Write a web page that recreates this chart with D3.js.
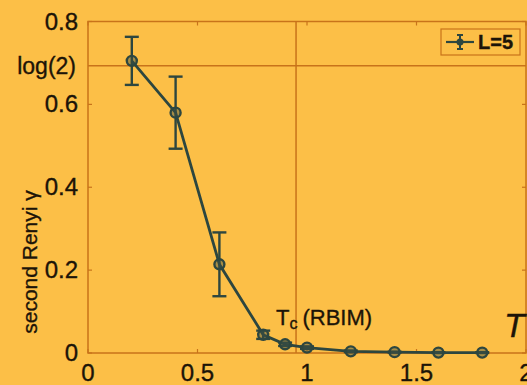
<!DOCTYPE html>
<html>
<head>
<meta charset="utf-8">
<script src="https://cdn.jsdelivr.net/npm/d3@7"></script>
<style>
  body { margin: 0; background: #fcbf47; }
  svg { display: block; }
  text { font-family: "Liberation Sans", Arial, sans-serif; fill: #1c1408; stroke: #1c1408; stroke-width: 0.35; }
</style>
</head>
<body>
<svg width="527" height="385"></svg>
<script>
let temps = [0.2, 0.4, 0.6, 0.8, 0.9, 1.0, 1.2, 1.4, 1.6, 1.8];
let renyi = [0.705, 0.580, 0.214, 0.044, 0.021, 0.013, 0.004, 0.002, 0.001, 0.001];
let errs = [0.058, 0.087, 0.077, 0.010, 0.004, 0.003, 0.002, 0.001, 0.001, 0.001];
let xTicks = [0, 0.5, 1, 1.5, 2];
let yTicks = [0, 0.2, 0.4, 0.6, 0.8];
let yTickLabels = ["0", "0.2", "0.4", "0.6", "0.8"];
let tc = 0.95;
let log2 = Math.log(2);

let axisColor = "#c8731a";
let lineColor = "#2d463f";

let svg = d3.select("svg");
let x = d3.scaleLinear().domain([0, 2]).range([88, 526]);
let y = d3.scaleLinear().domain([0, 0.8]).range([353, 21.5]);

let points = temps.map(function (t, i) { return { t: t, v: renyi[i], e: errs[i] }; });

// frame
svg.append("rect")
    .attr("x", x(0)).attr("y", y(0.8))
    .attr("width", x(2) - x(0)).attr("height", y(0) - y(0.8))
    .attr("fill", "none").attr("stroke", axisColor).attr("stroke-width", 1.5);

// inward ticks
svg.selectAll(".xt").data(xTicks).join("g").each(function (d) {
    let g = d3.select(this);
    g.append("line").attr("x1", x(d)).attr("x2", x(d)).attr("y1", y(0)).attr("y2", y(0) - 4)
        .attr("stroke", axisColor).attr("stroke-width", 1.2);
    g.append("line").attr("x1", x(d)).attr("x2", x(d)).attr("y1", y(0.8)).attr("y2", y(0.8) + 4)
        .attr("stroke", axisColor).attr("stroke-width", 1.2);
});
svg.selectAll(".yt").data(yTicks).join("g").each(function (d) {
    let g = d3.select(this);
    g.append("line").attr("x1", x(0)).attr("x2", x(0) + 4).attr("y1", y(d)).attr("y2", y(d))
        .attr("stroke", axisColor).attr("stroke-width", 1.2);
    g.append("line").attr("x1", x(2)).attr("x2", x(2) - 4).attr("y1", y(d)).attr("y2", y(d))
        .attr("stroke", axisColor).attr("stroke-width", 1.2);
});

// tick labels
svg.selectAll(".xl").data(xTicks).join("text")
    .attr("x", function (d) { return x(d); })
    .attr("y", 381)
    .attr("text-anchor", "middle")
    .attr("font-size", 24)
    .text(function (d) { return d; });
svg.selectAll(".yl").data(yTicks).join("text")
    .attr("x", 78)
    .attr("y", function (d) { return y(d) + 8; })
    .attr("text-anchor", "end")
    .attr("font-size", 24)
    .text(function (d, i) { return yTickLabels[i]; });

svg.append("text").attr("x", 76).attr("y", y(log2) + 8)
    .attr("text-anchor", "end").attr("font-size", 23).text("log(2)");

// reference lines
svg.append("line").attr("x1", x(0)).attr("x2", x(2)).attr("y1", y(log2)).attr("y2", y(log2))
    .attr("stroke", axisColor).attr("stroke-width", 1.5);
svg.append("line").attr("x1", x(tc)).attr("x2", x(tc)).attr("y1", y(0)).attr("y2", y(0.8))
    .attr("stroke", axisColor).attr("stroke-width", 1.5);

// axis titles
svg.append("text")
    .attr("transform", "translate(37,262) rotate(-90)")
    .attr("text-anchor", "middle")
    .attr("font-size", 21)
    .attr("stroke-width", 0.2)
    .text("second Renyi \u03b3");
svg.append("text").attr("x", 504).attr("y", 337)
    .attr("font-family", "Liberation Serif, serif")
    .attr("font-style", "italic").attr("font-size", 34).text("T");

let tcText = svg.append("text").attr("x", 276).attr("y", 325).attr("font-size", 22);
tcText.append("tspan").text("T");
tcText.append("tspan").attr("font-size", 16).attr("dy", 4).text("c");
tcText.append("tspan").attr("dy", -4).attr("dx", 5).text("(RBIM)");

// error bars
let eb = svg.selectAll(".eb").data(points).join("g").attr("stroke", lineColor).attr("stroke-width", 2.4);
eb.append("line")
    .attr("x1", function (d) { return x(d.t); }).attr("x2", function (d) { return x(d.t); })
    .attr("y1", function (d) { return y(d.v - d.e); }).attr("y2", function (d) { return y(d.v + d.e); });
eb.append("line")
    .attr("x1", function (d) { return x(d.t) - 7; }).attr("x2", function (d) { return x(d.t) + 7; })
    .attr("y1", function (d) { return y(d.v - d.e); }).attr("y2", function (d) { return y(d.v - d.e); });
eb.append("line")
    .attr("x1", function (d) { return x(d.t) - 7; }).attr("x2", function (d) { return x(d.t) + 7; })
    .attr("y1", function (d) { return y(d.v + d.e); }).attr("y2", function (d) { return y(d.v + d.e); });

// line
svg.append("path")
    .datum(points)
    .attr("fill", "none").attr("stroke", lineColor).attr("stroke-width", 2.8)
    .attr("d", d3.line().x(function (d) { return x(d.t); }).y(function (d) { return y(d.v); }));

svg.selectAll(".pt").data(points).join("circle")
    .attr("cx", function (d) { return x(d.t); })
    .attr("cy", function (d) { return y(d.v); })
    .attr("r", 5)
    .attr("fill", "#3d4f45").attr("fill-opacity", 0.45)
    .attr("stroke", lineColor).attr("stroke-width", 2.4);

// legend
svg.append("rect").attr("x", 441).attr("y", 29).attr("width", 79).attr("height", 26)
    .attr("fill", "none").attr("stroke", axisColor).attr("stroke-width", 1.2);
svg.append("line").attr("x1", 446).attr("x2", 474).attr("y1", 42).attr("y2", 42)
    .attr("stroke", lineColor).attr("stroke-width", 2.2);
svg.append("line").attr("x1", 460).attr("x2", 460).attr("y1", 35).attr("y2", 49)
    .attr("stroke", lineColor).attr("stroke-width", 2);
svg.append("line").attr("x1", 457).attr("x2", 463).attr("y1", 35).attr("y2", 35)
    .attr("stroke", lineColor).attr("stroke-width", 2);
svg.append("line").attr("x1", 457).attr("x2", 463).attr("y1", 49).attr("y2", 49)
    .attr("stroke", lineColor).attr("stroke-width", 2);
svg.append("circle").attr("cx", 460).attr("cy", 42).attr("r", 3.5).attr("fill", lineColor);
svg.append("text").attr("x", 478).attr("y", 49).attr("font-size", 20).attr("font-weight", "bold")
    .attr("stroke-width", 0).text("L=5");
</script>
</body>
</html>
